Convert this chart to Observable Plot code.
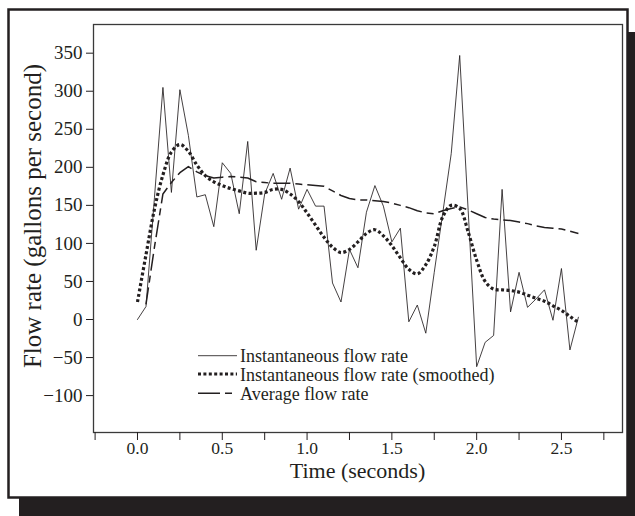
<!DOCTYPE html>
<html>
<head>
<meta charset="utf-8">
<script src="https://cdn.jsdelivr.net/npm/d3@7"></script>
<script src="https://cdn.jsdelivr.net/npm/@observablehq/plot@0.6"></script>
<style>
  html, body { margin: 0; padding: 0; background: #ffffff; }
  #chart svg { display: block; }
</style>
</head>
<body>
<div id="chart"></div>
<script>
// Time (seconds)
const time = [0.00,0.05,0.10,0.15,0.20,0.25,0.30,0.35,0.40,0.45,0.50,0.55,0.60,0.65,0.70,0.75,0.80,0.85,0.90,0.95,
  1.00,1.05,1.10,1.15,1.20,1.25,1.30,1.35,1.40,1.45,1.50,1.55,1.60,1.65,1.70,1.75,1.80,1.85,1.90,1.95,
  2.00,2.05,2.10,2.15,2.20,2.25,2.30,2.35,2.40,2.45,2.50,2.55,2.60];
// Instantaneous flow rate (gallons per second)
const instantaneous = [0,17,160,305,167,302,242,161,164,122,206,192,139,234,91,165,192,158,199,145,
  171,149,149,48,23,92,68,141,176,149,102,120,-3,19,-18,62,140,218,347,143,
  -62,-30,-21,171,10,62,16,27,39,-1,67,-40,3];
// Instantaneous flow rate (smoothed)
const smoothed = [23,85,145,190,220,230,221,203,189,181,176,172,169,166,166,167,171,171,165,155,
  140,124,108,95,88,92,102,113,118,110,97,81,66,60,72,96,135,150,146,115,
  78,50,40,39,38,36,32,28,24,18,12,4,-4];
// Average flow rate (starts at 0.05 s)
const avgTime = time.slice(1);
const average = [20,95,165,180,193,201,194,189,186,187,188,187,186,181,180,179,179,179,178,
  177,176,175,169,163,159,157,157,156,155,153,150,147,143,140,139,143,146,148,144,
  139,134,132,131,130,128,126,123,121,120,119,116,113];

const yTicks = [-100,-50,0,50,100,150,200,250,300,350];
const xTicks = [-0.25,0,0.25,0.5,0.75,1,1.25,1.5,1.75,2,2.25,2.5,2.75];
const legendLabels = ["Instantaneous flow rate", "Instantaneous flow rate (smoothed)", "Average flow rate"];

const ink = "#231f20";
const serif = "'Liberation Serif', 'Times New Roman', Times, serif";

const instData = time.map((t, i) => ({t, v: instantaneous[i]}));
const smoothData = time.map((t, i) => ({t, v: smoothed[i]}));
const avgData = avgTime.map((t, i) => ({t, v: average[i]}));

const styles = [
  {stroke: ink, strokeWidth: 0.85, strokeDasharray: null},
  {stroke: ink, strokeWidth: 3.2, strokeDasharray: "3,2.4"},
  {stroke: ink, strokeWidth: 1.5, strokeDasharray: "17,5,7,5"}
];

const plot = Plot.plot({
  width: 635,
  height: 516,
  marginLeft: 93,
  marginRight: 13,
  marginTop: 24,
  marginBottom: 84,
  style: {background: "transparent", fontFamily: serif, color: ink},
  x: {domain: [-0.2594, 2.86]},
  y: {domain: [-148.5, 387.7]},
  marks: [
    Plot.frame({stroke: "#3a3a3a", strokeWidth: 1.3}),
    Plot.axisY({ticks: yTicks, tickSize: 7, tickPadding: 4, fontSize: 19, label: null,
      tickFormat: d => d < 0 ? "\u2212" + Math.abs(d) : String(d)}),
    Plot.axisX({ticks: xTicks, tickSize: 8, tickPadding: 1, fontSize: 17.5, label: null,
      tickFormat: d => (Math.abs(d * 2 - Math.round(d * 2)) < 1e-9 && d >= 0) ? d.toFixed(1) : ""}),
    Plot.line(avgData, {x: "t", y: "v", strokeLinecap: "butt", ...styles[2]}),
    Plot.line(smoothData, {x: "t", y: "v", curve: "catmull-rom", strokeLinecap: "butt", ...styles[1]}),
    Plot.line(instData, {x: "t", y: "v", ...styles[0]})
  ]
});

const svg = d3.select(plot);
// background frame with drop shadow
const bg = svg.insert("g", ":first-child");
bg.append("rect").attr("x", 19).attr("y", 32).attr("width", 640).attr("height", 500).attr("fill", ink);
bg.append("rect").attr("x", 8.5).attr("y", 9.5).attr("width", 619).attr("height", 488)
  .attr("fill", "#ffffff").attr("stroke", ink).attr("stroke-width", 2.5);

// axis titles
const cx = (93 + 622) / 2;
svg.append("text").attr("x", cx).attr("y", 478).attr("text-anchor", "middle")
  .attr("font-family", serif).attr("font-size", 22).attr("fill", ink).text("Time (seconds)");
svg.append("text").attr("transform", `translate(41,216) rotate(-90)`).attr("text-anchor", "middle")
  .attr("font-family", serif).attr("font-size", 25).attr("fill", ink).text("Flow rate (gallons per second)");

// legend
const lg = svg.append("g");
const rowsY = [355.7, 374, 393.3];
legendLabels.forEach((lab, i) => {
  const s = styles[i];
  const line = lg.append("line").attr("x1", 198).attr("x2", 237).attr("y1", rowsY[i]).attr("y2", rowsY[i])
    .attr("stroke", s.stroke).attr("stroke-width", s.strokeWidth).attr("stroke-linecap", "butt");
  if (s.strokeDasharray) line.attr("stroke-dasharray", i === 2 ? "22,5,7,5" : s.strokeDasharray);
  lg.append("text").attr("x", 240).attr("y", rowsY[i] + 6.5).attr("font-family", serif)
    .attr("font-size", 18).attr("fill", ink).attr("text-anchor", "start").text(lab);
});

document.getElementById("chart").appendChild(plot);
</script>
</body>
</html>
